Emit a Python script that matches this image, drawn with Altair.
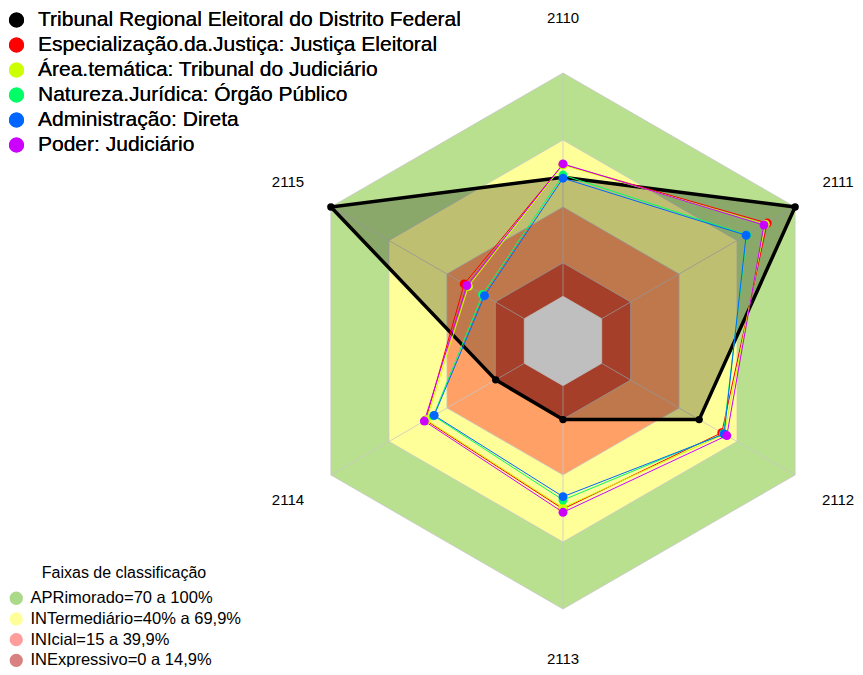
import altair as alt
import pandas as pd

# ---------------- data ----------------
axis_labels = ["2110", "2111", "2112", "2113", "2114", "2115"]

series_names = [
    "Tribunal Regional Eleitoral do Distrito Federal",
    "Especialização.da.Justiça: Justiça Eleitoral",
    "Área.temática: Tribunal do Judiciário",
    "Natureza.Jurídica: Órgão Público",
    "Administração: Direta",
    "Poder: Judiciário",
]
series_colors = ["#000000", "#FF0000", "#CCFF00", "#00FF66", "#0066FF", "#CC00FF"]

v_tre_df = [53.3, 100, 50.4, 15.2, 14.8, 100]
v_especializacao = [59.0, 85.6, 62.1, 55.2, 51.0, 31.1]
v_area_tematica = [58.8, 84.6, 63.4, 54.6, 50.6, 28.9]
v_natureza = [54.3, 75.0, 63.0, 51.2, 47.0, 21.6]
v_administracao = [52.9, 74.7, 63.3, 49.7, 46.6, 20.6]
v_poder = [59.3, 83.9, 64.7, 56.7, 51.7, 29.7]
series_values = [v_tre_df, v_especializacao, v_area_tematica,
                 v_natureza, v_administracao, v_poder]

band_labels = ["APRimorado=70 a 100%", "INTermediário=40% a 69,9%",
               "INIcial=15 a 39,9%", "INExpressivo=0 a 14,9%"]
band_upper = [100, 70, 40, 15]
band_fill = ["#B8E08E", "#FFFF99", "#FFA066", "#DD5538"]
band_legend_colors = ["#AAD98A", "#FFFF99", "#FF9C9C", "#D98080"]

r_min = -20      # radial axis starts at -20 (centre)
r_max = 100
r_zero = 0       # inner (empty) hexagon edge

# ---------------- geometry helpers (plot-area layout) ----------------
W, H = 847, 659
cx, cy = 555, 333                 # centre in plot pixels
k = 268 / (r_max - r_min)         # pixels per unit
x_dom = [-cx / k, (W - cx) / k]
y_dom = [-(H - cy) / k, cy / k]
FONT = "Liberation Sans"

xs = alt.Scale(domain=x_dom, nice=False, zero=False)
ys = alt.Scale(domain=y_dom, nice=False, zero=False)

ANG = "(PI/2 - datum.i*PI/3)"
XE = f"(datum.v - ({r_min})) * cos{ANG}"
YE = f"(datum.v - ({r_min})) * sin{ANG}"

# series long table (closed polygons: axis 0 repeated as index 6)
rows = []
for s, (name, vals) in enumerate(zip(series_names, series_values)):
    for i in range(7):
        rows.append({"series": name, "s": s, "i": i, "v": vals[i % 6]})
series_df = pd.DataFrame(rows)


def enc_xy(ch):
    return ch.encode(
        x=alt.X("x:Q", scale=xs, axis=None),
        y=alt.Y("y:Q", scale=ys, axis=None),
    )


def hexagon(level, fill, stroke="#C8C8C8"):
    bdf = pd.DataFrame({"i": list(range(7)), "v": [level] * 7})
    return enc_xy(
        alt.Chart(bdf)
        .mark_line(fill=fill, stroke=stroke, strokeWidth=0.8)
        .transform_calculate(x=XE, y=YE)
    ).encode(order="i:Q")


layers = []

# bands (largest first) + empty centre
for up, col in zip(band_upper, band_fill):
    layers.append(hexagon(up, col))
layers.append(hexagon(r_zero, "#FFFFFF", stroke="#FFFFFF"))

# spokes from the empty centre outwards
spk = pd.DataFrame({"i": list(range(6)), "v": [r_max] * 6, "v0": [r_zero] * 6})
layers.append(
    alt.Chart(spk)
    .mark_rule(color="#C8C8C8", strokeWidth=0.8)
    .transform_calculate(
        x=XE, y=YE,
        x0=f"(datum.v0 - ({r_min})) * cos{ANG}",
        y0=f"(datum.v0 - ({r_min})) * sin{ANG}",
    )
    .encode(
        x=alt.X("x0:Q", scale=xs, axis=None),
        y=alt.Y("y0:Q", scale=ys, axis=None),
        x2="x:Q",
        y2="y:Q",
    )
)

# black polygon with translucent fill
layers.append(
    enc_xy(
        alt.Chart(series_df[series_df.s == 0])
        .mark_line(fill="#000000", fillOpacity=0.25, stroke="#000000", strokeWidth=3.5)
        .transform_calculate(x=XE, y=YE)
    ).encode(order="i:Q")
)

# coloured lines
for s in range(1, 6):
    layers.append(
        enc_xy(
            alt.Chart(series_df[series_df.s == s])
            .mark_line(stroke=series_colors[s], strokeWidth=1)
            .transform_calculate(x=XE, y=YE)
        ).encode(order="i:Q")
    )

color_scale = alt.Scale(domain=series_names, range=series_colors)
series_legend = alt.Legend(
    title=None, orient="none", legendX=-2, legendY=1.5,
    symbolType="circle", symbolSize=230, symbolStrokeWidth=0,
    labelFontSize=21, labelFont=FONT, labelColor="#000000",
    labelOffset=11, rowPadding=3, padding=0, labelLimit=700,
)

pts = series_df[series_df.i < 6]
layers.append(
    enc_xy(
        alt.Chart(pts[pts.s == 0])
        .mark_circle(size=55, opacity=1)
        .transform_calculate(x=XE, y=YE)
    ).encode(color=alt.Color("series:N", scale=color_scale, legend=series_legend))
)
layers.append(
    enc_xy(
        alt.Chart(pts[pts.s > 0].sort_values(["i", "s"]))
        .mark_circle(size=80, opacity=1)
        .transform_calculate(x=XE, y=YE)
    ).encode(color=alt.Color("series:N", scale=color_scale, legend=series_legend))
)

# band legend (invisible carrier marks)
band_df = pd.DataFrame({"band": band_labels, "x": [0] * 4, "y": [0] * 4})
layers.append(
    enc_xy(
        alt.Chart(band_df).mark_circle(opacity=0, size=1)
    ).encode(
        fill=alt.Fill(
            "band:N",
            scale=alt.Scale(domain=band_labels, range=band_legend_colors),
            legend=alt.Legend(
                title="Faixas de classificação", orient="none",
                legendX=0, legendY=557,
                titleFontSize=16, titleFontWeight="normal", titleFont=FONT,
                titleColor="#000000", titleAnchor="middle", titleAlign="center",
                titlePadding=9,
                symbolType="circle", symbolSize=177, symbolOpacity=1,
                symbolStrokeWidth=0,
                labelFontSize=16.5, labelFont=FONT, labelColor="#000000",
                labelOffset=6, rowPadding=3.7, padding=0, labelLimit=400,
            ),
        )
    )
)

# axis labels (slightly farther out on the vertical axes, kept inside the page)
lab_df = pd.DataFrame({"i": list(range(6)), "label": axis_labels})
S = f"sin{ANG}"
RL = f"(139.8 + 4.8*abs({S}) - ({S} < -0.9 ? 2.2 : 0))"
layers.append(
    alt.Chart(lab_df)
    .mark_text(fontSize=15, font=FONT, color="#000000", align="center", baseline="middle")
    .transform_calculate(x=f"{RL} * cos{ANG}", y=f"{RL} * {S}")
    .encode(
        x=alt.X("x:Q", scale=xs, axis=None),
        y=alt.Y("y:Q", scale=ys, axis=None),
        text="label:N",
    )
)

chart = (
    alt.layer(*layers)
    .resolve_scale(color="independent", fill="independent")
    .properties(width=W, height=H, padding=0, autosize=alt.AutoSizeParams(type="none"))
    .configure_view(stroke=None)
)

chart.save("out.html", embed_options={"renderer": "svg", "actions": False})
